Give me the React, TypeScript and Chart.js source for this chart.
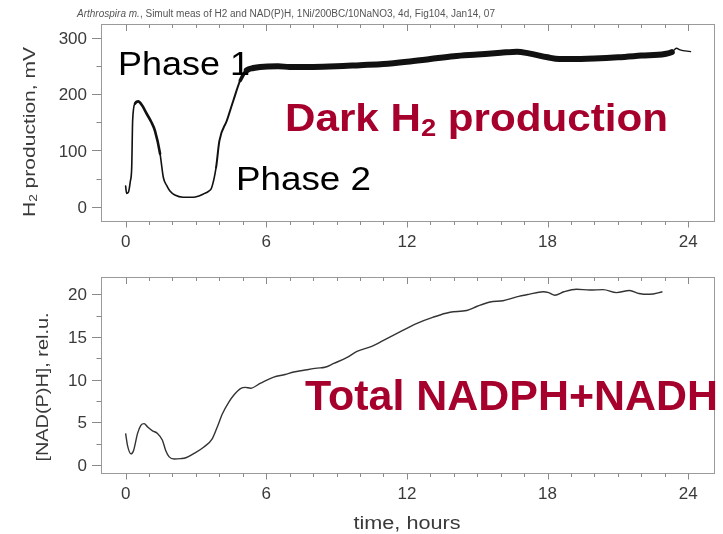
import React, { useEffect, useRef } from 'react';
import { Chart, registerables } from 'chart.js';

Chart.register(...registerables);

// ---------- data ----------
const h2Hours = [0, 0.04, 0.12, 0.2, 0.26, 0.3, 0.4, 0.54, 0.7, 0.9, 1.1, 1.25, 1.47, 1.61, 1.75, 1.89, 2.1, 2.45, 2.89, 3.1, 3.32, 3.55, 3.67, 3.86, 4.0, 4.32, 4.6, 4.89, 5.17, 5.45, 5.74, 6.5, 7, 8, 9, 10, 11, 12, 13, 14, 15, 16, 16.7, 17.2, 18, 18.5, 19, 20, 21, 22, 23, 23.3, 23.5, 23.65, 24.1];
const h2Values = [37, 24, 26, 45, 70, 153, 183, 187, 180, 165, 150, 135, 94, 52, 38, 28, 21, 17, 17, 19, 23, 28, 34, 70, 117, 153, 189, 224, 242, 246, 248, 249, 248, 248, 249, 251, 253, 257, 262, 267, 270, 273, 275, 272, 265, 262, 262, 263, 265, 268, 271, 274, 281, 278, 275];

const nadHours = [0, 0.08, 0.23, 0.34, 0.51, 0.65, 0.79, 0.94, 1.15, 1.36, 1.57, 1.71, 1.86, 2.07, 2.35, 2.57, 2.92, 3.34, 3.7, 3.91, 4.13, 4.41, 4.62, 4.9, 5.1, 5.33, 5.76, 6.32, 6.8, 7.17, 7.6, 8.17, 8.5, 8.88, 9.45, 9.87, 10.5, 11.0, 11.7, 12.43, 13.1, 13.84, 14.55, 15.0, 15.55, 16.1, 16.68, 17.2, 17.81, 18.05, 18.31, 18.7, 19.23, 19.8, 20.37, 20.94, 21.5, 21.9, 22.35, 22.9];
const nadValues = [3.7, 2.3, 1.3, 1.7, 3.7, 4.65, 4.85, 4.45, 4.0, 3.7, 2.9, 1.7, 0.95, 0.7, 0.75, 0.85, 1.35, 2.1, 3.1, 4.45, 6.0, 7.4, 8.2, 8.95, 9.1, 9.0, 9.6, 10.3, 10.6, 10.9, 11.1, 11.35, 11.45, 11.9, 12.6, 13.3, 13.9, 14.6, 15.6, 16.6, 17.3, 17.9, 18.1, 18.6, 19.1, 19.25, 19.7, 20.0, 20.3, 20.2, 19.9, 20.3, 20.6, 20.5, 20.55, 20.2, 20.45, 20.1, 20.0, 20.3];

const hourMinorTicks = [0, 1, 2, 3, 4, 5, 6, 7, 8, 9, 10, 11, 12, 13, 14, 15, 16, 17, 18, 19, 20, 21, 22, 23, 24];
const hourLabels = [0, 6, 12, 18, 24];
const h2Ticks = [0, 100, 200, 300];
const h2MinorTicks = [50, 150, 250];
const nadTicks = [0, 5, 10, 15, 20];
const nadMinorTicks = [2.5, 7.5, 12.5, 17.5];

// ---------- styling helpers ----------
const FONT = '"Liberation Sans", Arial, Helvetica, sans-serif';
const RED = '#A6002C';
const FRAME = '#9a9a9a';
const TICK = '#8a8a8a';
const LABEL = '#3a3a3a';

type Part = { t: string; sub?: boolean; italic?: boolean };
type TextOpts = {
  size: number;
  color: string;
  weight?: string;
  align?: 'left' | 'center' | 'right';
  width?: number;
  rotate?: boolean;
  middle?: boolean;
};

function drawText(ctx: CanvasRenderingContext2D, parts: Part[] | string, x: number, y: number, o: TextOpts) {
  const ps: Part[] = typeof parts === 'string' ? [{ t: parts }] : parts;
  const fontFor = (p: Part) => `${p.italic ? 'italic ' : ''}${o.weight || 'normal'} ${p.sub ? o.size * 0.65 : o.size}px ${FONT}`;
  let w = 0;
  const ws = ps.map((p) => {
    ctx.font = fontFor(p);
    const m = ctx.measureText(p.t).width;
    w += m;
    return m;
  });
  const sx = o.width ? o.width / w : 1;
  ctx.save();
  ctx.translate(x, y);
  if (o.rotate) ctx.rotate(-Math.PI / 2);
  ctx.scale(sx, 1);
  ctx.fillStyle = o.color;
  ctx.textBaseline = 'alphabetic';
  ctx.textAlign = 'left';
  let cx = o.align === 'center' ? -w / 2 : o.align === 'right' ? -w : 0;
  const dy = o.middle ? o.size * 0.36 : 0;
  ps.forEach((p, i) => {
    ctx.font = fontFor(p);
    ctx.fillText(p.t, cx, dy + (p.sub ? o.size * 0.14 : 0));
    cx += ws[i];
  });
  ctx.restore();
}

function drawFrameAndTicks(chart: any, yMajor: number[], yMinor: number[]) {
  const { ctx, chartArea } = chart;
  const xs = chart.scales.x;
  const ys = chart.scales.y;
  const { left, right, top, bottom } = chartArea;
  ctx.save();
  ctx.strokeStyle = FRAME;
  ctx.lineWidth = 1;
  ctx.strokeRect(Math.round(left) + 0.5, Math.round(top) + 0.5, Math.round(right - left), Math.round(bottom - top));
  ctx.strokeStyle = TICK;
  ctx.beginPath();
  hourMinorTicks.forEach((h) => {
    const px = Math.round(xs.getPixelForValue(h)) + 0.5;
    const major = hourLabels.includes(h);
    ctx.moveTo(px, Math.round(bottom) + 0.5);
    ctx.lineTo(px, Math.round(bottom) + (major ? 6.5 : 4));
    ctx.moveTo(px, Math.round(top) + 0.5);
    ctx.lineTo(px, Math.round(top) + (major ? 7 : 4));
  });
  yMajor.forEach((v) => {
    const py = Math.round(ys.getPixelForValue(v)) + 0.5;
    ctx.moveTo(Math.round(left) + 0.5, py);
    ctx.lineTo(Math.round(left) - 9, py);
  });
  yMinor.forEach((v) => {
    const py = Math.round(ys.getPixelForValue(v)) + 0.5;
    ctx.moveTo(Math.round(left) + 0.5, py);
    ctx.lineTo(Math.round(left) - 4.5, py);
  });
  ctx.stroke();
  ctx.restore();

  hourLabels.forEach((h) => {
    drawText(ctx, String(h), xs.getPixelForValue(h), bottom + 20, { size: 17, color: LABEL, align: 'center', middle: true });
  });
  yMajor.forEach((v) => {
    drawText(ctx, String(v), left - 14, ys.getPixelForValue(v), { size: 17, color: LABEL, align: 'right', middle: true });
  });
}

function h2Width(x: number) {
  if (x >= 23.3) return 1.3;
  if (x >= 5.2) return 6;
  if (x >= 4.8) return 3.5;
  if (x >= 3.8) return 2;
  if (x >= 1.4) return 1.6;
  if (x >= 0.4) return 2.6;
  return 1.6;
}

const topDeco = {
  id: 'topDeco',
  afterDraw(chart: any) {
    const ctx = chart.ctx as CanvasRenderingContext2D;
    drawFrameAndTicks(chart, h2Ticks, h2MinorTicks);
    drawText(
      ctx,
      [{ t: 'Arthrospira m.', italic: true }, { t: ', Simult meas of H2 and NAD(P)H, 1Ni/200BC/10NaNO3, 4d, Fig104, Jan14, 07' }],
      77, 17, { size: 10, color: '#555', width: 418 }
    );
    drawText(ctx, [{ t: 'H' }, { t: '2', sub: true }, { t: ' production, mV' }], 35, 132, { size: 17, color: LABEL, align: 'center', rotate: true, width: 170 });
    drawText(ctx, 'Phase 1', 118, 75, { size: 33, color: '#000', width: 132 });
    drawText(ctx, 'Phase 2', 236, 190, { size: 33, color: '#000', width: 135 });
    drawText(ctx, [{ t: 'Dark H' }, { t: '2', sub: true }, { t: ' production' }], 285, 131, { size: 38, weight: 'bold', color: RED, width: 383 });
  },
};

const bottomDeco = {
  id: 'bottomDeco',
  afterDraw(chart: any) {
    const ctx = chart.ctx as CanvasRenderingContext2D;
    drawFrameAndTicks(chart, nadTicks, nadMinorTicks);
    drawText(ctx, '[NAD(P)H], rel.u.', 48, 125, { size: 16.5, color: LABEL, align: 'center', rotate: true, width: 149 });
    drawText(ctx, 'Total NADPH+NADH', 305, 148, { size: 42, weight: 'bold', color: RED, width: 413 });
    drawText(ctx, 'time, hours', 407, 267, { size: 18, color: LABEL, align: 'center', width: 107 });
  },
};

function baseScales(xHeight: number, yMin: number, yMax: number) {
  return {
    x: {
      type: 'linear' as const,
      min: -1.05,
      max: 25.1,
      ticks: { display: false },
      grid: { display: false },
      border: { display: false },
      afterFit: (s: any) => { s.height = xHeight; },
    },
    y: {
      type: 'linear' as const,
      min: yMin,
      max: yMax,
      ticks: { display: false },
      grid: { display: false },
      border: { display: false },
      afterFit: (s: any) => { s.width = 101; },
    },
  };
}

export default function App() {
  const topRef = useRef<HTMLCanvasElement>(null);
  const botRef = useRef<HTMLCanvasElement>(null);

  useEffect(() => {
    const h2Data = h2Hours.map((x, i) => ({ x, y: h2Values[i] }));
    const nadData = nadHours.map((x, i) => ({ x, y: nadValues[i] }));

    const top = new Chart(topRef.current as HTMLCanvasElement, {
      type: 'line',
      data: {
        datasets: [{
          data: h2Data,
          borderColor: '#111',
          borderWidth: 1.5,
          pointRadius: 0,
          cubicInterpolationMode: 'monotone',
          borderCapStyle: 'round',
          borderJoinStyle: 'round',
          segment: { borderWidth: (c: any) => h2Width((c.p0.parsed.x + c.p1.parsed.x) / 2) },
        } as any],
      },
      options: {
        animation: false,
        responsive: false,
        events: [],
        layout: { padding: { top: 24, right: 9, left: 0, bottom: 0 } },
        plugins: { legend: { display: false }, tooltip: { enabled: false } },
        scales: baseScales(41, -25, 324) as any,
      },
      plugins: [topDeco],
    });

    const bottom = new Chart(botRef.current as HTMLCanvasElement, {
      type: 'line',
      data: {
        datasets: [{
          data: nadData,
          borderColor: '#333',
          borderWidth: 1.4,
          pointRadius: 0,
          cubicInterpolationMode: 'monotone',
        } as any],
      },
      options: {
        animation: false,
        responsive: false,
        events: [],
        layout: { padding: { top: 15, right: 9, left: 0, bottom: 0 } },
        plugins: { legend: { display: false }, tooltip: { enabled: false } },
        scales: baseScales(61, -0.94, 22.03) as any,
      },
      plugins: [bottomDeco],
    });

    return () => {
      top.destroy();
      bottom.destroy();
    };
  }, []);

  return (
    <div style={{ position: 'absolute', left: 0, top: 0, width: 723, height: 534, background: '#fff', overflow: 'hidden' }}>
      <canvas ref={topRef} width={723} height={262} style={{ position: 'absolute', left: 0, top: 0, width: 723, height: 262 }} />
      <canvas ref={botRef} width={723} height={272} style={{ position: 'absolute', left: 0, top: 262, width: 723, height: 272 }} />
    </div>
  );
}
